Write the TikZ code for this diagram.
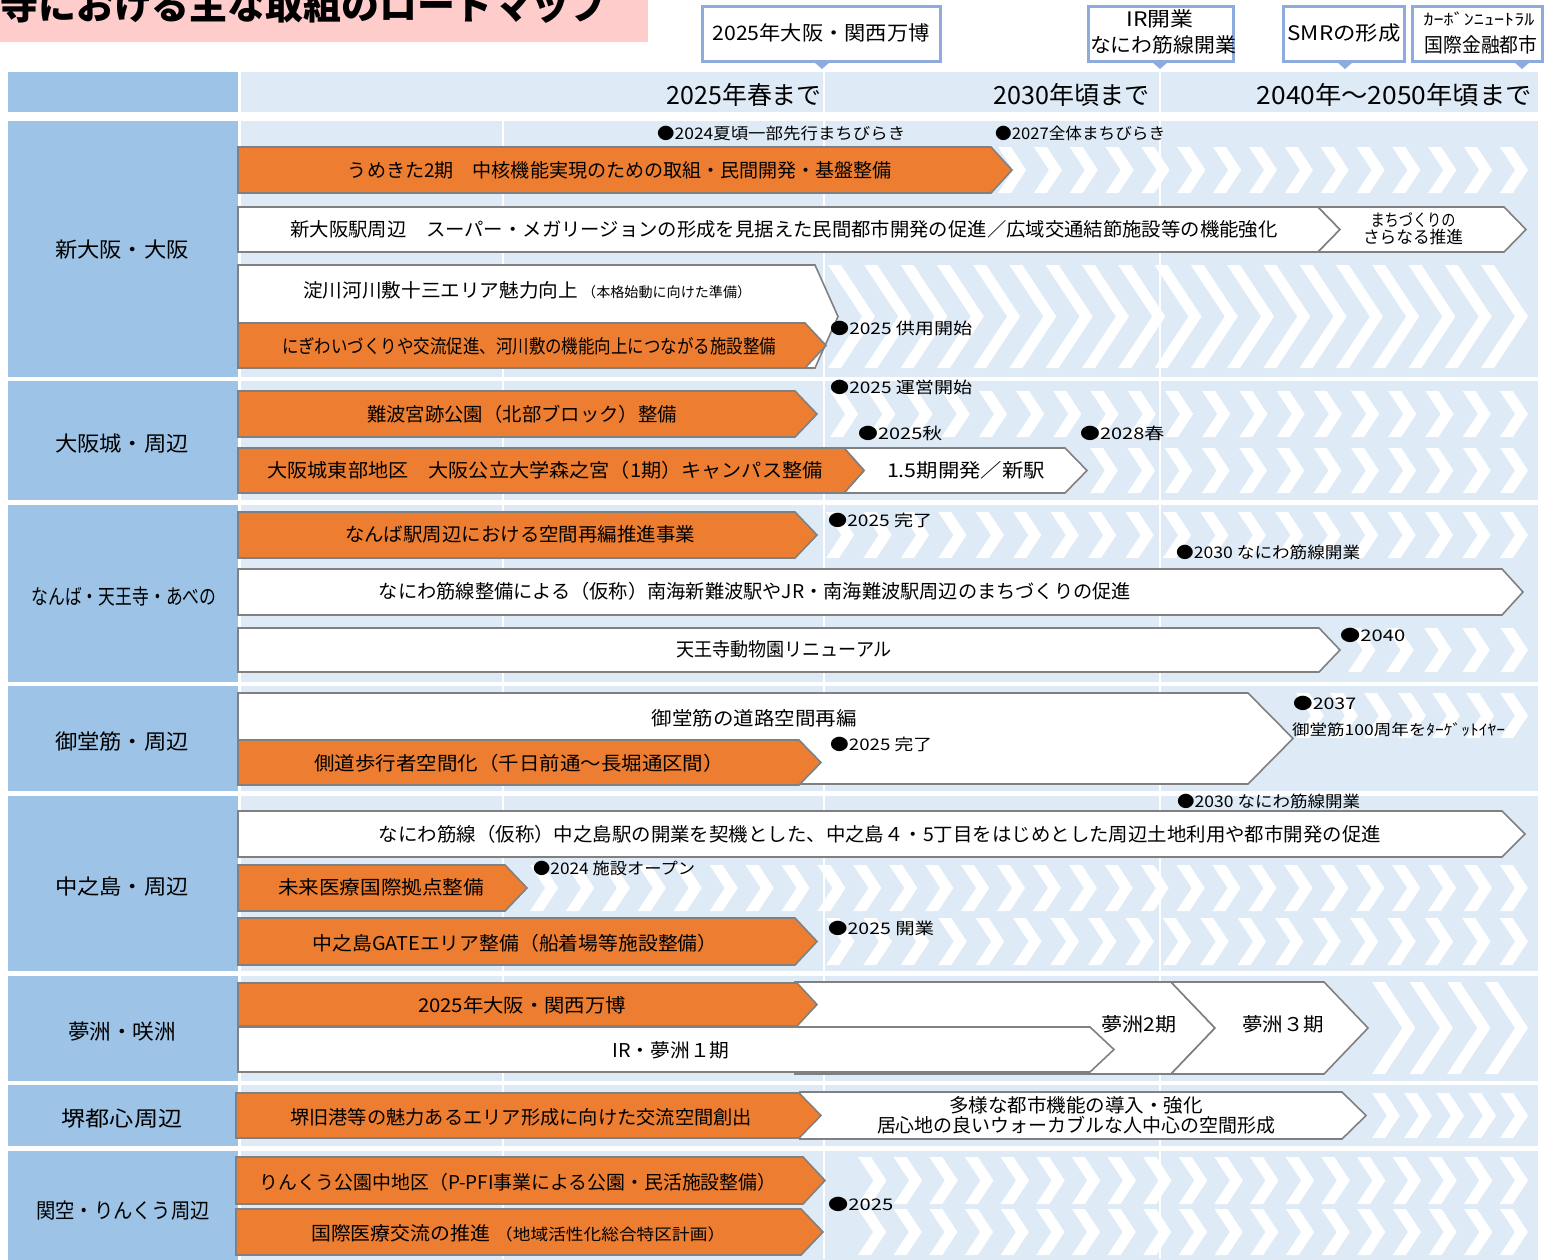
\documentclass[tikz,border=0pt]{standalone}
\usepackage{fontspec}
\usepackage{graphicx}
\newfontfamily\jpfont{Noto Sans CJK JP}

\definecolor{roadorange}{HTML}{ED7D31}
\definecolor{bargray}{HTML}{808080}
\definecolor{areablue}{HTML}{9DC3E6}
\definecolor{lightbg}{HTML}{DEEAF6}
\definecolor{callblue}{HTML}{8FAADC}
\definecolor{titlepink}{HTML}{FFCCCC}

% squeeze a text to a given width, keeping its height
\newcommand\sq[2]{\resizebox{#1pt}{\height}{#2}}
% bar with a point: style, left, shoulder, tip, top, bottom
\newcommand\plate[6]{\draw[#1] (#2,#5) -- (#3,#5) -- (#4,{(#5+#6)/2}) -- (#3,#6) -- (#2,#6) -- cycle;}
% bar with a notch on the left: style, left, notch, shoulder, tip, top, bottom
\newcommand\notched[7]{\draw[#1] (#2,#6) -- (#4,#6) -- (#5,{(#6+#7)/2}) -- (#4,#7) -- (#2,#7) -- (#3,{(#6+#7)/2}) -- cycle;}
% row of white chevrons up to the right edge: first x, top, bottom
\newcommand\chevrow[3]{%
  \pgfmathsetmacro\cm{(#2+#3)/2}
  \pgfmathsetmacro\cd{0.33*(#3-#2)}
  \pgfmathsetmacro\cl{1528-#1-13-\cd}
  \pgfmathtruncatemacro\cn{round(\cl/36.5)+1}
  \pgfmathsetmacro\cp{\cl/(\cn-1)}
  \foreach \i in {1,...,\cn}{
    \pgfmathsetmacro\cx{#1+\cp*(\i-1)}
    \fill[white] (\cx,#2) -- ++(13,0) -- ({\cx+13+\cd},\cm) -- (\cx+13,#3) -- (\cx,#3) -- ({\cx+\cd},\cm) -- cycle;
  }}

\begin{document}
\begin{tikzpicture}[x=1pt,y=-1pt,
  font=\jpfont,
  orangebar/.style={fill=roadorange, draw=bargray, line width=1.6pt, line join=miter},
  whitebar/.style={fill=white, draw=bargray, line width=1.6pt, line join=miter},
  callbox/.style={fill=white, draw=callblue, line width=3pt},
  bartext/.style={inner sep=0pt, font=\jpfont\fontsize{19}{21}\selectfont},
  mstext/.style={inner sep=0pt, anchor=west, font=\jpfont\fontsize{16}{18}\selectfont},
  areatext/.style={inner sep=0pt, font=\jpfont\fontsize{21}{24}\selectfont},
  yeartext/.style={inner sep=0pt, anchor=east, font=\jpfont\fontsize{25}{28}\selectfont},
  calltext/.style={inner sep=0pt, font=\jpfont\fontsize{20}{22}\selectfont}]
\path[use as bounding box] (0,0) rectangle (1545,1259);
\clip (0,0) rectangle (1545,1259);
\fill[white] (0,0) rectangle (1545,1259);

% title
\fill[titlepink] (0,0) rectangle (648,42);
\node[inner sep=0pt, anchor=base west, font=\jpfont\fontsize{38}{40}\selectfont] (title) at (0,19) {\sq{607}{\bfseries 寺における主な取組のロードマップ}};

% callouts
\draw[callbox] (702,6) rectangle (940,61);
\fill[callblue] (814,62) -- (830,62) -- (822,69) -- cycle;
\node[calltext] (expo) at (821,33) {\sq{217}{2025年大阪・関西万博}};
\draw[callbox] (1088,6) rectangle (1233,61);
\fill[callblue] (1152,62) -- (1168,62) -- (1160,69) -- cycle;
\node[calltext] (irkaigyo) at (1160,19) {\sq{67}{IR開業}};
\node[calltext] (naniwasuji) at (1163,45) {\sq{146}{なにわ筋線開業}};
\draw[callbox] (1283,6) rectangle (1404,61);
\fill[callblue] (1337,62) -- (1353,62) -- (1345,69) -- cycle;
\node[calltext] (smr) at (1344,33) {\sq{113}{SMRの形成}};
\draw[callbox] (1412,6) rectangle (1542,61);
\fill[callblue] (1514,62) -- (1530,62) -- (1522,69) -- cycle;
\node[calltext, font=\jpfont\fontsize{16}{18}\selectfont] (carbon) at (1479,19) {\sq{111}{ｶｰﾎﾞﾝﾆｭｰﾄﾗﾙ}};
\node[calltext] (kinyu) at (1481,45) {\sq{113}{国際金融都市}};

% header row
\fill[areablue] (8,72) rectangle (238,112);
\fill[lightbg] (241,72) rectangle (1538,112);
\draw[white, line width=2pt] (824,72) -- (824,112) (1160,72) -- (1160,112);
\node[yeartext] (y2025) at (822,95) {\sq{155}{2025年春まで}};
\node[yeartext] (y2030) at (1150,95) {\sq{156}{2030年頃まで}};
\node[yeartext] (y2050) at (1532,95) {\sq{275}{2040年～2050年頃まで}};

% area cells and backgrounds
\foreach \t/\b in {121/377, 381/500, 505/682, 686/791, 796/971, 976/1081, 1085/1146, 1151/1262}{
  \fill[areablue] (8,\t) rectangle (238,\b);
  \fill[lightbg] (241,\t) rectangle (1538,\b);
}
\draw[white, line width=1.5pt] (503,121) -- (503,1259);
\draw[white, line width=2pt] (824,121) -- (824,1259) (1160,121) -- (1160,1259);

\node[areatext] (shinosakaarea) at (122,250) {\sq{134}{新大阪・大阪}};
\node[areatext] (osakajo) at (122,444) {\sq{134}{大阪城・周辺}};
\node[areatext] (namba) at (124,597) {\sq{185}{なんば・天王寺・あべの}};
\node[areatext] (midosujiarea) at (122,742) {\sq{134}{御堂筋・周辺}};
\node[areatext] (nakanoshimaarea) at (122,887) {\sq{134}{中之島・周辺}};
\node[areatext] (yumeshima) at (122,1032) {\sq{108}{夢洲・咲洲}};
\node[areatext] (sakaiarea) at (122,1119) {\sq{121}{堺都心周辺}};
\node[areatext] (kanku) at (123,1211) {\sq{174}{関空・りんくう周辺}};

% chevrons
\chevrow{998}{147}{193}
\chevrow{828}{265}{368}
\chevrow{830}{391}{437}
\chevrow{1090}{448}{493}
\chevrow{826}{512}{558}
\chevrow{1348}{628}{672}
\chevrow{1296}{693}{738}
\chevrow{530}{865}{911}
\chevrow{826}{918}{965}
\chevrow{1372}{982}{1074}
\chevrow{1372}{1093}{1138}
\chevrow{858}{1157}{1204}
\chevrow{858}{1209}{1255}

% new osaka / osaka
\plate{orangebar}{238}{991}{1012}{147}{193}
\plate{whitebar}{238}{1318}{1340}{207}{252}
\notched{whitebar}{1318}{1340}{1504}{1526}{207}{252}
\plate{whitebar}{238}{815}{838}{265}{368}
\plate{orangebar}{238}{805}{826}{323}{368}
\node[mstext] (ms1) at (657,133) {\sq{248}{●2024夏頃一部先行まちびらき}};
\node[mstext] (ms2) at (995,133) {\sq{170}{●2027全体まちびらき}};
\node[bartext] (umekita) at (620,170) {\sq{544}{うめきた2期　中核機能実現のための取組・民間開発・基盤整備}};
\node[bartext] (shinosaka) at (784,229) {\sq{987}{新大阪駅周辺　スーパー・メガリージョンの形成を見据えた民間都市開発の促進／広域交通結節施設等の機能強化}};
\node[bartext, align=center, font=\jpfont\fontsize{17}{17}\selectfont] (sarani) at (1413,229) {\sq{85}{まちづくりの}\\\sq{100}{さらなる推進}};
\node[bartext, anchor=west] (yodogawa) at (303,290) {\sq{275}{淀川河川敷十三エリア魅力向上}\hspace{4pt}{\fontsize{14}{16}\selectfont\sq{169}{（本格始動に向けた準備）}}};
\node[bartext] (nigiwai) at (529,346) {\sq{494}{にぎわいづくりや交流促進、河川敷の機能向上につながる施設整備}};
\node[mstext] (ms3) at (830,328) {\sq{142}{●2025 供用開始}};

% osaka castle
\notched{whitebar}{844}{864}{1065}{1087}{448}{493}
\plate{orangebar}{238}{795}{817}{391}{437}
\plate{orangebar}{238}{844}{864}{448}{493}
\node[mstext] (ms4) at (830,387) {\sq{142}{●2025 運営開始}};
\node[bartext] (naniwanomiya) at (522,414) {\sq{310}{難波宮跡公園（北部ブロック）整備}};
\node[mstext] (ms5) at (858,433) {\sq{84}{●2025秋}};
\node[mstext] (ms6) at (1080,433) {\sq{84}{●2028春}};
\node[bartext] (morinomiya) at (545,470) {\sq{555}{大阪城東部地区　大阪公立大学森之宮（1期）キャンパス整備}};
\node[bartext] (shineki) at (966,470) {\sq{158}{1.5期開発／新駅}};

% namba / tennoji / abeno
\plate{orangebar}{238}{795}{817}{512}{558}
\plate{whitebar}{238}{1502}{1523}{569}{615}
\plate{whitebar}{238}{1319}{1340}{628}{672}
\node[bartext] (nambaeki) at (520,534) {\sq{350}{なんば駅周辺における空間再編推進事業}};
\node[mstext] (ms7) at (828,520) {\sq{104}{●2025 完了}};
\node[mstext] (ms8) at (1176,552) {\sq{184}{●2030 なにわ筋線開業}};
\node[bartext] (nankai) at (755,591) {\sq{752}{なにわ筋線整備による（仮称）南海新難波駅やJR・南海難波駅周辺のまちづくりの促進}};
\node[bartext] (tennoji) at (784,649) {\sq{216}{天王寺動物園リニューアル}};
\node[mstext] (ms9) at (1340,635) {\sq{65}{●2040}};

% midosuji
\plate{whitebar}{238}{1248}{1293}{693}{784}
\plate{orangebar}{238}{799}{821}{740}{785}
\node[bartext] (midosuji) at (754,718) {\sq{205}{御堂筋の道路空間再編}};
\node[bartext] (sokudo) at (519,763) {\sq{410}{側道歩行者空間化（千日前通～長堀通区間）}};
\node[mstext] (ms10) at (830,744) {\sq{102}{●2025 完了}};
\node[mstext] (ms11) at (1293,703) {\sq{63}{●2037}};
\node[mstext, font=\jpfont\fontsize{15}{17}\selectfont] (target) at (1292,730) {\sq{213}{御堂筋100周年をﾀｰｹﾞｯﾄｲﾔｰ}};

% nakanoshima
\plate{whitebar}{238}{1502}{1525}{811}{857}
\plate{orangebar}{238}{505}{527}{865}{911}
\plate{orangebar}{238}{795}{817}{918}{965}
\node[mstext] (ms12) at (1177,801) {\sq{183}{●2030 なにわ筋線開業}};
\node[bartext] (nakanoshima) at (880,834) {\sq{1002}{なにわ筋線（仮称）中之島駅の開業を契機とした、中之島４・5丁目をはじめとした周辺土地利用や都市開発の促進}};
\node[mstext] (ms13) at (533,868) {\sq{162}{●2024 施設オープン}};
\node[bartext] (mirai) at (381,887) {\sq{206}{未来医療国際拠点整備}};
\node[bartext] (gate) at (515,943) {\sq{405}{中之島GATEエリア整備（船着場等施設整備）}};
\node[mstext] (ms14) at (828,928) {\sq{106}{●2025 開業}};

% yumeshima / sakishima
\plate{whitebar}{795}{1171}{1215}{982}{1074}
\notched{whitebar}{1171}{1215}{1324}{1368}{982}{1074}
\plate{whitebar}{238}{1090}{1114}{1027}{1072}
\plate{orangebar}{238}{797}{817}{983}{1026}
\node[bartext] (banpaku) at (522,1005) {\sq{208}{2025年大阪・関西万博}};
\node[bartext] (irphase) at (671,1050) {\sq{117}{IR・夢洲１期}};
\node[bartext] (yume2) at (1139,1024) {\sq{75}{夢洲2期}};
\node[bartext] (yume3) at (1283,1024) {\sq{82}{夢洲３期}};

% sakai
\plate{whitebar}{800}{1342}{1366}{1092}{1139}
\plate{orangebar}{236}{799}{821}{1093}{1138}
\node[bartext] (sakai) at (521,1117) {\sq{462}{堺旧港等の魅力あるエリア形成に向けた交流空間創出}};
\node[bartext, align=center, font=\jpfont\fontsize{19}{20}\selectfont] (tayou) at (1076,1115) {\sq{254}{多様な都市機能の導入・強化}\\\sq{398}{居心地の良いウォーカブルな人中心の空間形成}};

% kanku / rinku
\plate{orangebar}{236}{803}{825}{1157}{1204}
\plate{orangebar}{236}{801}{823}{1209}{1255}
\node[bartext] (rinku) at (518,1182) {\sq{517}{りんくう公園中地区（P-PFI事業による公園・民活施設整備）}};
\node[bartext, anchor=west] (iryo) at (311,1233) {\sq{179}{国際医療交流の推進}\hspace{5pt}{\fontsize{16}{18}\selectfont\sq{230}{（地域活性化総合特区計画）}}};
\node[mstext] (ms15) at (828,1204) {\sq{65}{●2025}};
\end{tikzpicture}
\end{document}
